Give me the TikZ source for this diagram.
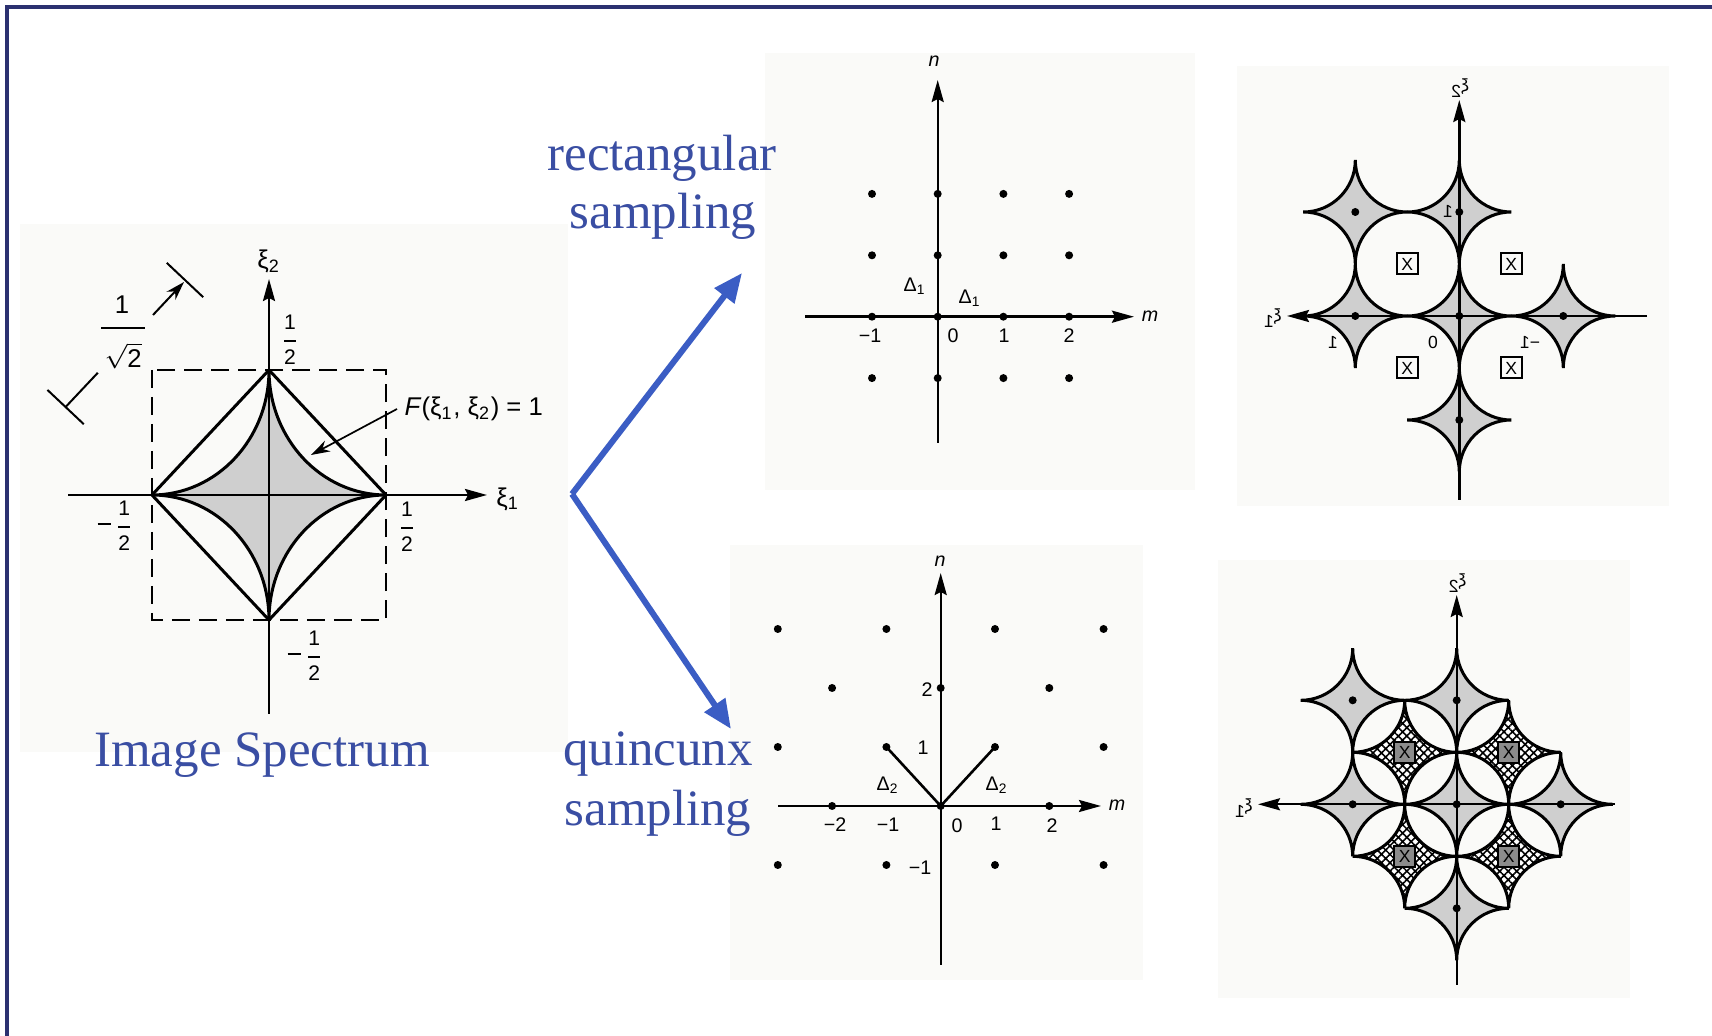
\documentclass[tikz,border=0pt]{standalone}
\usepackage{fontspec}
\usepackage{graphicx}
\setmainfont{Liberation Serif}
\newfontfamily\lsans{Liberation Sans}
\usetikzlibrary{arrows.meta,patterns.meta}
\definecolor{txtblue}{HTML}{3A4EA3}
\definecolor{arrblue}{HTML}{3B5DC4}
\definecolor{frameblue}{HTML}{2B3170}
\definecolor{bggray}{HTML}{FAFAF8}
\newcommand\lfnt{\lsans\fontsize{7.3}{8.5}\selectfont}
\newcommand\ffnt{\lsans\fontsize{6}{7}\selectfont}
\newcommand\mfnt{\lsans\fontsize{5.6}{6.5}\selectfont}
\newcommand\rfnt{\lsans\fontsize{5}{6}\selectfont}
\newcommand\bfnt{\rmfamily\fontsize{14.5}{16}\selectfont}
\newcommand\hfr[2]{$\displaystyle{\mbox{#1}\above 0.6pt\mbox{#2}}$}
\newcommand\mir[1]{\scalebox{-1}[1]{#1}}
\newcommand\mns{\rule[0.36em]{0.62em}{0.6pt}}
% concave diamond: style, cx, cy, hx, hy
\newcommand\cdiam[5]{%
 \path[#1] ({#2+#4},{#3})
  .. controls ({#2+0.4477*(#4)},{#3}) and ({#2},{#3+0.4477*(#5)}) .. ({#2},{#3+#5})
  .. controls ({#2},{#3+0.4477*(#5)}) and ({#2-0.4477*(#4)},{#3}) .. ({#2-#4},{#3})
  .. controls ({#2-0.4477*(#4)},{#3}) and ({#2},{#3-0.4477*(#5)}) .. ({#2},{#3-#5})
  .. controls ({#2},{#3-0.4477*(#5)}) and ({#2+0.4477*(#4)},{#3}) .. ({#2+#4},{#3}) -- cycle;}
\begin{document}
\begin{tikzpicture}[x=0.1mm,y=-0.1mm,
  ax/.style={line width=0.24mm},
  axarr/.style={ax,-{Stealth[length=2.2mm,width=1.2mm,inset=0.3mm]}},
  outl/.style={draw=black,line width=0.3mm},
  dshade/.style={fill=black!19},
  hshade/.style={fill=white},
  hpat/.style={pattern={Hatch[angle=45,distance=1.7pt,line width=0.45pt]}},
  smdot/.style={circle,fill=black,inner sep=0pt,minimum size=0.8mm},
  lab/.style={inner sep=0pt,font=\lfnt},
  mlab/.style={inner sep=0pt,font=\mfnt},
  rlab/.style={inner sep=0pt,font=\rfnt},
  btxt/.style={text=txtblue,font=\bfnt,inner sep=0pt,anchor=base},
  barr/.style={draw=arrblue,line width=0.6mm,-{Triangle[length=2.9mm,width=2.4mm]}},
  xbox/.style={draw,line width=0.2mm,minimum size=2.1mm,inner sep=0pt,font=\rfnt},
  thinl/.style={line width=0.2mm},
]
\useasboundingbox (0,0) rectangle (1712,1036);
\fill[white] (0,0) rectangle (1712,1036);
% light backgrounds of the scanned figures
\fill[bggray] (20,224) rectangle (568,752);
\fill[bggray] (765,53) rectangle (1195,490);
\fill[bggray] (730,545) rectangle (1143,980);
\fill[bggray] (1237,66) rectangle (1669,506);
\fill[bggray] (1218,560) rectangle (1630,998);
% frame
\draw[frameblue,line width=0.35mm] (7,1036) -- (7,7) -- (1712,7);

%%%%%%%%%%%%%%%% LEFT: image spectrum
\coordinate (LO) at (269,495);
\coordinate (Lv1) at (386,495);
\coordinate (Lv2) at (269,370);
\coordinate (Lv3) at (152,495);
\coordinate (Lv4) at (269,620);
\cdiam{dshade}{269}{495}{117}{125}
\cdiam{outl}{269}{495}{117}{125}
\draw[outl,line join=miter] (Lv1) -- (Lv2) -- (Lv3) -- (Lv4) -- cycle;
\draw[line width=0.2mm,dash pattern=on 1.8mm off 0.9mm] (152,370) rectangle (386,620);
\coordinate (Lx0) at (68,495);
\coordinate (Lx1) at (487,495);
\coordinate (Ly0) at (269,714);
\coordinate (Ly1) at (269,279);
\draw[axarr] (Lx0) -- (Lx1);
\draw[axarr] (Ly0) -- (Ly1);
\node[lab] (Lxi1) at (508,499) {ξ\textsubscript{1}};
\node[lab] (Lxi2) at (269,261) {ξ\textsubscript{2}};
\node[lab,font=\ffnt] (Lh1) at (290,340) {\hfr{1}{2}};
\node[lab,font=\ffnt] (Lh2) at (116,526) {\mns\,\hfr{1}{2}};
\node[lab,font=\ffnt] (Lh3) at (407,527) {\hfr{1}{2}};
\node[lab,font=\ffnt] (Lh4) at (306,656) {\mns\,\hfr{1}{2}};
\node[lab,anchor=west] (Flab) at (404,409) {\textit{F}(ξ\textsubscript{1}, ξ\textsubscript{2}) = 1};
\coordinate (Ftip) at (311,455);
\draw[line width=0.17mm,-{Stealth[length=1.9mm,width=1.2mm]}] ([xshift=-0.7mm]Flab.west) -- (Ftip);
% dimension 1/sqrt2
\coordinate (Db1a) at (47.4,389.9);
\coordinate (Db1b) at (83.8,424.2);
\coordinate (Db2a) at (166.8,262.9);
\coordinate (Db2b) at (203.2,297.2);
\coordinate (D1) at (65.6,407);
\coordinate (D1e) at (97.8,372.8);
\coordinate (D2s) at (153,315);
\coordinate (D2) at (184,282);
\draw[thinl] (Db1a) -- (Db1b);
\draw[thinl] (Db2a) -- (Db2b);
\draw[thinl] (D1) -- (D1e);
\draw[thinl,-{Stealth[length=1.9mm,width=1.2mm]}] (D2s) -- (D2);
\node[lab] (Dnum) at (122,305) {1};
\node[lab] (Dden) at (123,356) {$\sqrt{\mbox{2}}$};
\coordinate (Dbar0) at (101,328);
\coordinate (Dbar1) at (145,328);
\draw[line width=0.22mm] (Dbar0) -- (Dbar1);

%%%%%%%%%%%%%%%% blue text and arrows
\node[btxt] (trect1) at (662,171) {rectangular};
\node[btxt] (trect2) at (663,229) {sampling};
\node[btxt] (tq1) at (658,766) {quincunx};
\node[btxt] (tq2) at (658,826) {sampling};
\node[btxt] (timg) at (262,767) {Image Spectrum};
\coordinate (V) at (572,494);
\coordinate (Uup) at (742,273);
\coordinate (Wdn) at (731,729);
\draw[barr] (V) -- (Uup);
\draw[barr] (V) -- (Wdn);

%%%%%%%%%%%%%%%% TOP MIDDLE: rectangular lattice
\coordinate (RO) at (937.7,316.7);
\coordinate (Rn0) at (937.7,443);
\coordinate (Rn1) at (937.7,80);
\coordinate (Rm0) at (805,316.7);
\coordinate (Rm1) at (1134,316.7);
\draw[axarr] (Rn0) -- (Rn1);
\draw[axarr] (Rm0) -- (Rm1);
\node[mlab,font=\mfnt\itshape] (Rn) at (934,61) {n};
\node[mlab,font=\mfnt\itshape] (Rm) at (1150,316) {m};
\foreach \m in {-1,0,1,2}{\foreach \n in {2,1,0,-1}{
  \node[smdot] (rd\m\n) at ({937.7+65.7*(\m)},{316.7-61.4*(\n)}) {};}}
\node[mlab] (Rt1) at (870,336) {−1};
\node[mlab] (Rt2) at (953,336) {0};
\node[mlab] (Rt3) at (1004,336) {1};
\node[mlab] (Rt4) at (1069,336) {2};
\node[mlab] (Rd1) at (915,286) {Δ\textsubscript{1}};
\node[mlab] (Rd2) at (970,298) {Δ\textsubscript{1}};

%%%%%%%%%%%%%%%% BOTTOM MIDDLE: quincunx lattice
\coordinate (QO) at (940.7,806);
\coordinate (Qn0) at (940.7,965);
\coordinate (Qn1) at (940.7,573);
\coordinate (Qm0) at (778,806);
\coordinate (Qm1) at (1101,806);
\coordinate (QA) at (886.4,747);
\coordinate (QB) at (995,747);
\draw[axarr] (Qn0) -- (Qn1);
\draw[axarr] (Qm0) -- (Qm1);
\draw[line width=0.26mm] (QO) -- (QA);
\draw[line width=0.26mm] (QO) -- (QB);
\node[mlab,font=\mfnt\itshape] (Qn) at (940,561) {n};
\node[mlab,font=\mfnt\itshape] (Qm) at (1117,805) {m};
\foreach \m/\n [count=\k] in {-3/3,-1/3,1/3,3/3,-2/2,0/2,2/2,-3/1,-1/1,1/1,3/1,-2/0,0/0,2/0,-3/-1,-1/-1,1/-1,3/-1}{
  \node[smdot] (qd\k) at ({940.7+54.3*(\m)},{806-59*(\n)}) {};}
\node[mlab] (Qt1) at (835,825) {−2};
\node[mlab] (Qt2) at (888,825) {−1};
\node[mlab] (Qt3) at (957,826) {0};
\node[mlab] (Qt4) at (996,824) {1};
\node[mlab] (Qt5) at (1052,826) {2};
\node[mlab] (Qv1) at (927,690) {2};
\node[mlab] (Qv2) at (923,748) {1};
\node[mlab] (Qv3) at (920,868) {−1};
\node[mlab] (Qd1) at (888,785) {Δ\textsubscript{2}};
\node[mlab] (Qd2) at (997,785) {Δ\textsubscript{2}};

%%%%%%%%%%%%%%%% TOP RIGHT: spectrum, rectangular sampling (mirrored)
\foreach \i/\j in {-1/1,0/1,-1/0,0/0,1/0,0/-1}{
  \cdiam{dshade}{1459.3+104*(\i)}{316-104*(\j)}{52}{52}}
\foreach \i/\j in {-1/1,0/1,-1/0,0/0,1/0,0/-1}{
  \cdiam{outl}{1459.3+104*(\i)}{316-104*(\j)}{52}{52}}
\coordinate (Ta0) at (1647,316);
\coordinate (Ta1) at (1287,316);
\coordinate (Tb0) at (1459.3,500);
\coordinate (Tb1) at (1459.3,100);
\draw[axarr] (Ta0) -- (Ta1);
\draw[axarr] (Tb0) -- (Tb1);
\foreach \i/\j [count=\k] in {-1/1,0/1,-1/0,0/0,1/0,0/-1}{
  \node[smdot] (td\k) at ({1459.3+104*(\i)},{316-104*(\j)}) {};}
\node[xbox] (tx1) at (1407.3,264) {X};
\node[xbox] (tx2) at (1511.3,264) {X};
\node[xbox] (tx3) at (1407.3,368) {X};
\node[xbox] (tx4) at (1511.3,368) {X};
\node[rlab] (Txi1) at (1272,318) {\mir{ξ\textsubscript{1}}};
\node[rlab] (Txi2) at (1459.3,88) {\mir{ξ\textsubscript{2}}};
\node[rlab] (Tl1) at (1448,211) {\mir{1}};
\node[rlab] (Tl2) at (1333,342) {\mir{1}};
\node[rlab] (Tl3) at (1433,342) {\mir{0}};
\node[rlab] (Tl4) at (1530,342) {\mir{−1}};

%%%%%%%%%%%%%%%% BOTTOM RIGHT: spectrum, quincunx sampling (mirrored)
\foreach \i/\j in {-1/1,0/1,-1/0,0/0,1/0,0/-1}{
  \cdiam{dshade}{1456.7+104*(\i)}{804.3-104*(\j)}{52}{52}}
\foreach \i/\j in {-0.5/0.5,0.5/0.5,-0.5/-0.5,0.5/-0.5}{
  \cdiam{hshade}{1456.7+104*(\i)}{804.3-104*(\j)}{52}{52}
  \cdiam{hpat}{1456.7+104*(\i)}{804.3-104*(\j)}{52}{52}}
\foreach \i/\j in {-1/1,0/1,-1/0,0/0,1/0,0/-1,-0.5/0.5,0.5/0.5,-0.5/-0.5,0.5/-0.5}{
  \cdiam{outl}{1456.7+104*(\i)}{804.3-104*(\j)}{52}{52}}
\coordinate (Ba0) at (1615,804.3);
\coordinate (Ba1) at (1258,804.3);
\coordinate (Bb0) at (1456.7,985);
\coordinate (Bb1) at (1456.7,595);
\draw[axarr] (Ba0) -- (Ba1);
\draw[axarr] (Bb0) -- (Bb1);
\foreach \i/\j [count=\k] in {-1/1,0/1,-1/0,0/0,1/0,0/-1}{
  \node[smdot] (bd\k) at ({1456.7+104*(\i)},{804.3-104*(\j)}) {};}
\foreach \i/\j [count=\k] in {-0.5/0.5,0.5/0.5,-0.5/-0.5,0.5/-0.5}{
  \node[xbox,fill=black!45] (bx\k) at ({1456.7+104*(\i)},{804.3-104*(\j)}) {X};}
\node[rlab] (Bxi1) at (1243,808) {\mir{ξ\textsubscript{1}}};
\node[rlab] (Bxi2) at (1456.7,583) {\mir{ξ\textsubscript{2}}};
\end{tikzpicture}
\end{document}
